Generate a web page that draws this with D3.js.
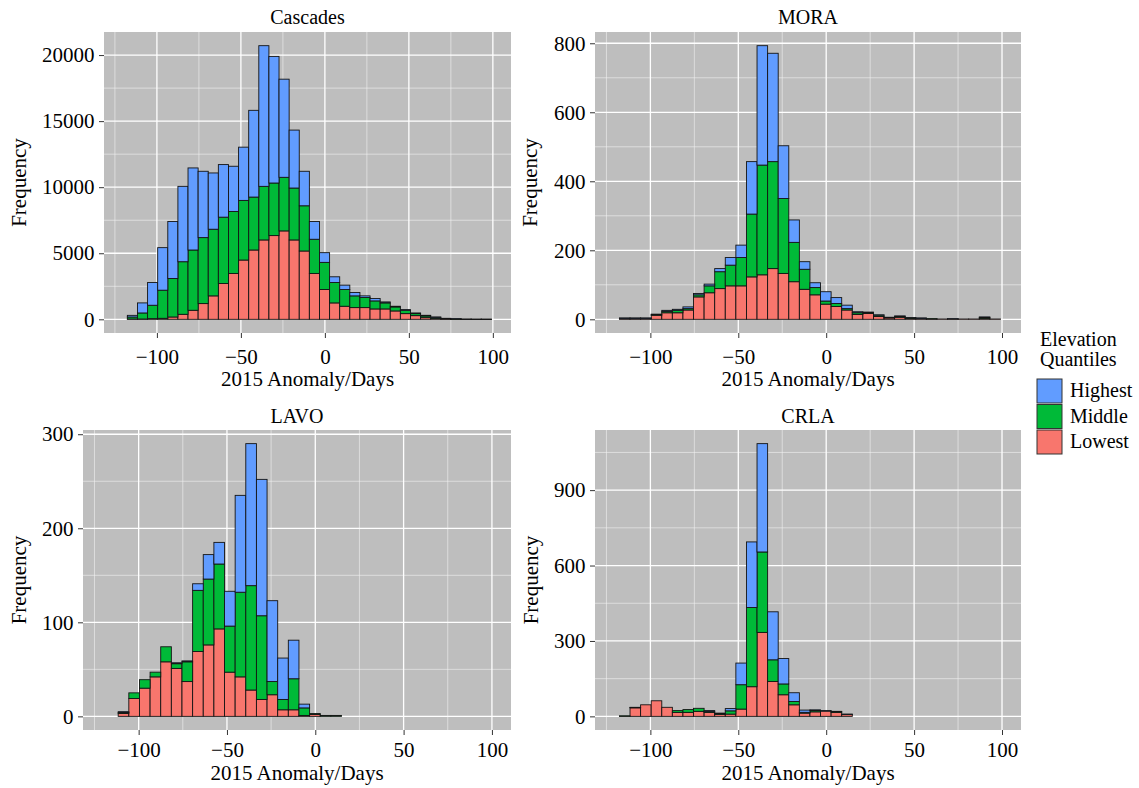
<!DOCTYPE html>
<html>
<head>
<meta charset="utf-8">
<script src="https://cdn.jsdelivr.net/npm/d3@7"></script>
<style>
  body { margin: 0; background: #fff; }
  svg text { font-family: "Liberation Serif", "Times New Roman", "DejaVu Serif", serif; fill: #000; }
</style>
</head>
<body>
<svg id="chart" width="1139" height="788"></svg>
<script>
// histogram bins (days), 36 bins
const binStart = -117.6;
const binWidth = 6.02;

const groupKeys = ["low", "mid", "high"];
const groupNames = ["Lowest", "Middle", "Highest"];
const groupColors = ["#F8766D", "#00BA38", "#619CFF"];

const xTicks = [-100, -50, 0, 50, 100];
const xMinor = [-125, -75, -25, 25, 75];

// counts per bin
const cascadesLow  = [25,25,50,76,177,380,684,1191,1775,2712,3473,4487,5247,6008,6338,6692,6008,5171,3473,2256,1242,989,887,887,786,786,634,431,279,127,76,25,12,4,2,2];
const cascadesMid  = [153,457,1015,2129,2916,3980,4563,4994,5044,5020,4690,4513,4006,4056,3979,4056,3929,3423,2586,2054,1547,1267,888,761,608,456,304,253,152,127,76,26,13,3,2,2];
const cascadesHigh = [122,760,1724,3220,4309,5704,6211,5020,4259,3980,3422,4030,6565,10647,9583,7428,4386,2611,1343,735,430,330,253,127,178,76,51,51,51,50,25,25,26,3,1,1];

const moraLow  = [2,2,2,12,19,19,27,65,77,89,97,97,123,129,147,133,109,87,71,44,37,27,14,17,8,4,6,3,2,1,1,1,1,1,3,1];
const moraMid  = [1,1,1,1,4,7,4,6,20,49,60,82,182,318,310,217,114,58,21,9,9,4,5,2,4,1,2,1,1,1,0,0,0,0,2,0];
const moraHigh = [1,1,1,2,3,3,5,4,5,9,22,36,152,346,314,153,65,22,14,27,17,10,3,2,1,1,2,1,1,0,0,1,0,0,2,0];

const lavoLow  = [0,3,19,30,42,58,51,37,69,76,93,47,42,28,18,23,7,7,1,2,0,0,0,0,0,0,0,0,0,0,0,0,0,0,0,0];
const lavoMid  = [0,1,6,9,5,16,5,21,65,70,69,49,90,111,89,14,11,33,8,1,1,1,0,0,0,0,0,0,0,0,0,0,0,0,0,0];
const lavoHigh = [0,1,0,0,0,0,1,1,7,26,23,37,103,151,145,86,44,41,4,0,0,0,0,0,0,0,0,0,0,0,0,0,0,0,0,0];

const crlaLow  = [1,34,46,62,36,16,16,20,16,8,9,29,118,334,139,86,46,13,18,21,16,7,0,0,0,0,0,0,0,0,0,0,0,0,0,0];
const crlaMid  = [1,1,0,0,0,7,11,12,4,3,13,97,315,320,86,43,13,3,5,0,3,1,0,0,0,0,0,0,0,0,0,0,0,0,0,0];
const crlaHigh = [0,1,0,0,0,0,0,0,3,2,9,86,261,431,191,101,35,9,3,2,1,1,0,0,0,0,0,0,0,0,0,0,0,0,0,0];

const cascadesTicks = [0, 5000, 10000, 15000, 20000];
const cascadesMinor = [2500, 7500, 12500, 17500];
const moraTicks = [0, 200, 400, 600, 800];
const moraMinor = [100, 300, 500, 700];
const lavoTicks = [0, 100, 200, 300];
const lavoMinor = [50, 150, 250];
const crlaTicks = [0, 300, 600, 900];
const crlaMinor = [150, 450, 750, 1050];

const FONT = '"Liberation Serif", "Times New Roman", "DejaVu Serif", serif';
const svg = d3.select("#chart");
const xDomain = [-131.5, 110.8];

const panels = [
  { title: "Cascades", low: cascadesLow, mid: cascadesMid, high: cascadesHigh, ticks: cascadesTicks, minor: cascadesMinor,
    x0: 104, x1: 511, y0: 32, y1: 333, titleY: 24, tickY: 364, xlabY: 386, ylabX: 26 },
  { title: "MORA", low: moraLow, mid: moraMid, high: moraHigh, ticks: moraTicks, minor: moraMinor,
    x0: 595, x1: 1021, y0: 32, y1: 333, titleY: 24, tickY: 364, xlabY: 386, ylabX: 537 },
  { title: "LAVO", low: lavoLow, mid: lavoMid, high: lavoHigh, ticks: lavoTicks, minor: lavoMinor,
    x0: 83, x1: 511, y0: 430, y1: 730, titleY: 423, tickY: 757, xlabY: 780, ylabX: 26 },
  { title: "CRLA", low: crlaLow, mid: crlaMid, high: crlaHigh, ticks: crlaTicks, minor: crlaMinor,
    x0: 595, x1: 1021, y0: 430, y1: 730, titleY: 423, tickY: 757, xlabY: 780, ylabX: 538 }
];

function drawPanel(p) {
  const g = svg.append("g");
  const x = d3.scaleLinear().domain(xDomain).range([p.x0, p.x1]);

  const rows = p.low.map(function (v, i) {
    return { start: binStart + i * binWidth, low: v, mid: p.mid[i], high: p.high[i] };
  });
  const ymax = d3.max(rows, d => d.low + d.mid + d.high);
  const y = d3.scaleLinear().domain([-0.05 * ymax, 1.05 * ymax]).range([p.y1, p.y0]);

  // panel background
  g.append("rect")
    .attr("x", p.x0).attr("y", p.y0)
    .attr("width", p.x1 - p.x0).attr("height", p.y1 - p.y0)
    .attr("fill", "#BEBEBE");

  // grid lines
  g.selectAll(".xminor").data(xMinor).enter().append("line")
    .attr("x1", d => x(d)).attr("x2", d => x(d))
    .attr("y1", p.y0).attr("y2", p.y1)
    .attr("stroke", "#f2f2f2").attr("stroke-width", 0.6);
  g.selectAll(".yminor").data(p.minor).enter().append("line")
    .attr("x1", p.x0).attr("x2", p.x1)
    .attr("y1", d => y(d)).attr("y2", d => y(d))
    .attr("stroke", "#f2f2f2").attr("stroke-width", 0.6);
  g.selectAll(".xmajor").data(xTicks).enter().append("line")
    .attr("x1", d => x(d)).attr("x2", d => x(d))
    .attr("y1", p.y0).attr("y2", p.y1)
    .attr("stroke", "#ffffff").attr("stroke-width", 1.3);
  g.selectAll(".ymajor").data(p.ticks).enter().append("line")
    .attr("x1", p.x0).attr("x2", p.x1)
    .attr("y1", d => y(d)).attr("y2", d => y(d))
    .attr("stroke", "#ffffff").attr("stroke-width", 1.3);

  // stacked bars
  const series = d3.stack().keys(groupKeys)(rows);
  series.forEach(function (s, k) {
    g.append("g").selectAll("rect").data(s).enter().append("rect")
      .attr("x", d => x(d.data.start))
      .attr("width", d => x(d.data.start + binWidth) - x(d.data.start))
      .attr("y", d => y(d[1]))
      .attr("height", d => y(d[0]) - y(d[1]))
      .attr("fill", groupColors[k])
      .attr("stroke", "#141414")
      .attr("stroke-width", 0.9);
  });

  // axes
  const xAxis = g.append("g")
    .attr("transform", "translate(0," + p.y1 + ")")
    .call(d3.axisBottom(x).tickValues(xTicks).tickSize(5));
  xAxis.attr("font-family", null);
  xAxis.select(".domain").remove();
  xAxis.selectAll("line").attr("stroke", "#333").attr("stroke-width", 1);
  xAxis.selectAll("text")
    .attr("y", p.tickY - p.y1).attr("dy", 0)
    .style("font-family", FONT).style("font-size", "21px").attr("fill", "#000");

  const yAxis = g.append("g")
    .attr("transform", "translate(" + p.x0 + ",0)")
    .call(d3.axisLeft(y).tickValues(p.ticks).tickSize(5).tickPadding(4.5).tickFormat(d3.format("d")));
  yAxis.attr("font-family", null);
  yAxis.select(".domain").remove();
  yAxis.selectAll("line").attr("stroke", "#333").attr("stroke-width", 1);
  yAxis.selectAll("text").style("font-family", FONT).style("font-size", "21px").attr("fill", "#000");

  // labels
  g.append("text")
    .attr("x", (p.x0 + p.x1) / 2).attr("y", p.titleY)
    .attr("text-anchor", "middle")
    .style("font-family", FONT).style("font-size", "20px")
    .text(p.title);
  g.append("text")
    .attr("x", (p.x0 + p.x1) / 2).attr("y", p.xlabY)
    .attr("text-anchor", "middle")
    .style("font-family", FONT).style("font-size", "21px")
    .text("2015 Anomaly/Days");
  g.append("text")
    .attr("transform", "translate(" + p.ylabX + "," + (p.y0 + p.y1) / 2 + ") rotate(-90)")
    .attr("text-anchor", "middle")
    .style("font-family", FONT).style("font-size", "21px")
    .text("Frequency");
}

panels.forEach(drawPanel);

// legend
const legend = svg.append("g").attr("transform", "translate(1037,0)");
legend.append("text").attr("x", 3).attr("y", 346).style("font-family", FONT).style("font-size", "20px").text("Elevation");
legend.append("text").attr("x", 3).attr("y", 366).style("font-family", FONT).style("font-size", "20px").text("Quantiles");
const legendOrder = [2, 1, 0];
legendOrder.forEach(function (k, i) {
  legend.append("rect")
    .attr("x", 0).attr("y", 379 + i * 25.5)
    .attr("width", 25).attr("height", 24)
    .attr("fill", groupColors[k])
    .attr("stroke", "#333").attr("stroke-width", 1);
  legend.append("text")
    .attr("x", 33).attr("y", 379 + i * 25.5 + 18)
    .style("font-family", FONT).style("font-size", "20px")
    .text(groupNames[k]);
});
</script>
</body>
</html>
